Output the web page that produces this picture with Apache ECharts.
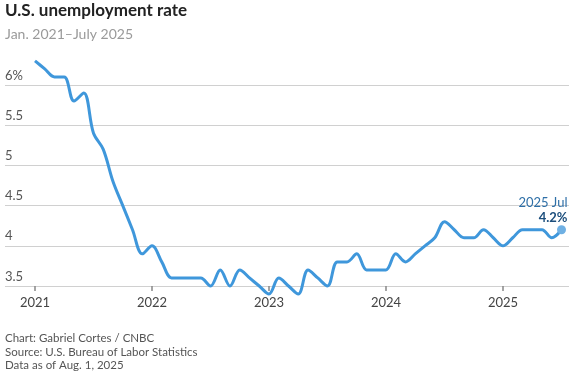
<!DOCTYPE html>
<html>
<head>
<meta charset="utf-8">
<script src="https://cdn.jsdelivr.net/npm/echarts@6/dist/echarts.min.js"></script>
<style>
html,body{margin:0;padding:0;background:#fff;}
#chart{width:571px;height:376px;}
</style>
</head>
<body>
<div id="chart"></div>
<script>
// Monthly U.S. unemployment rate (%), Jan 2021 - Jul 2025
const years = ['2021', '2022', '2023', '2024', '2025'];
const monthNames = ['Jan','Feb','Mar','Apr','May','Jun','Jul','Aug','Sep','Oct','Nov','Dec'];
const rate2021 = [6.3, 6.2, 6.1, 6.1, 5.8, 5.9, 5.4, 5.2, 4.8, 4.5, 4.2, 3.9];
const rate2022 = [4.0, 3.8, 3.6, 3.6, 3.6, 3.6, 3.5, 3.7, 3.5, 3.7, 3.6, 3.5];
const rate2023 = [3.4, 3.6, 3.5, 3.4, 3.7, 3.6, 3.5, 3.8, 3.8, 3.9, 3.7, 3.7];
const rate2024 = [3.7, 3.9, 3.8, 3.9, 4.0, 4.1, 4.3, 4.2, 4.1, 4.1, 4.2, 4.1];
const rate2025 = [4.0, 4.1, 4.2, 4.2, 4.2, 4.1, 4.2];
const yTicks = [3.5, 4, 4.5, 5, 5.5, 6];

const values = [].concat(rate2021, rate2022, rate2023, rate2024, rate2025);
const categories = [];
years.forEach(y => monthNames.forEach(m => { if (categories.length < values.length) categories.push(y + ' ' + m); }));

const lastIdx = values.length - 1;
const seriesData = values.map((v, i) => i === lastIdx ? {
  value: v,
  symbol: 'circle',
  symbolSize: 9,
  itemStyle: { color: '#6fb0e3' },
  label: {
    show: true,
    position: 'top',
    distance: 0,
    align: 'right',
    offset: [6, 0],
    formatter: p => '{a|' + p.name + '}\n{b|' + p.value + '%}',
    rich: {
      a: { fontFamily: 'Lato', fontSize: 13, color: '#2e6fa7', lineHeight: 15, align: 'right' },
      b: { fontFamily: 'Lato', fontSize: 13, fontWeight: 'bold', color: '#1c4e7c', lineHeight: 15, align: 'right' }
    }
  }
} : v);

const FONT = 'Lato';
const chart = echarts.init(document.getElementById('chart'), null, { renderer: 'canvas' });
chart.setOption({
  animation: false,
  backgroundColor: '#fff',
  title: [
    {
      text: 'U.S. unemployment rate',
      subtext: 'Jan. 2021\u2013July 2025',
      left: 5, top: 2, itemGap: 8, padding: 0,
      textStyle: { fontFamily: FONT, fontSize: 17, fontWeight: 'bold', color: '#222' },
      subtextStyle: { fontFamily: FONT, fontSize: 14, color: '#9a9a9a' }
    },
    {
      text: 'Chart: Gabriel Cortes / CNBC\nSource: U.S. Bureau of Labor Statistics\nData as of Aug. 1, 2025',
      left: 5, top: 332, padding: 0,
      textStyle: { fontFamily: FONT, fontSize: 11.5, fontWeight: 'normal', color: '#555', lineHeight: 13.5 }
    }
  ],
  grid: [
    { left: 5, right: 2, top: 85, bottom: 90 },
    { left: 35, right: 9.5, top: 85, bottom: 90 }
  ],
  xAxis: [
    { gridIndex: 0, type: 'value', show: false, min: 0, max: 1 },
    {
      gridIndex: 1, type: 'category', data: categories, boundaryGap: false,
      axisLine: { show: false },
      axisTick: { show: true, length: 5, alignWithLabel: true, interval: (i) => i % 12 === 0, lineStyle: { color: '#888', width: 1.5 } },
      axisLabel: { interval: (i) => i % 12 === 0, formatter: (v) => v.split(' ')[0], margin: 10, fontFamily: FONT, fontSize: 13, color: '#444' },
      splitLine: { show: false }
    }
  ],
  yAxis: [
    {
      gridIndex: 0, type: 'value', min: 3.5, max: 6, interval: 0.5,
      axisLine: { show: false }, axisTick: { show: false },
      splitLine: { show: true, lineStyle: { color: '#d0d0d0', width: 1 } },
      axisLabel: {
        inside: true, margin: 0, verticalAlign: 'bottom', padding: [0, 0, 3, 0],
        fontFamily: FONT, fontSize: 13, color: '#555',
        formatter: (v) => (v === yTicks[yTicks.length - 1] ? v + '%' : String(v))
      }
    },
    { gridIndex: 1, type: 'value', min: 3.5, max: 6, interval: 0.5, show: false, splitLine: { show: false } }
  ],
  series: [
    {
      type: 'line', xAxisIndex: 1, yAxisIndex: 1,
      data: seriesData,
      clip: false,
      symbol: 'none',
      smooth: 0.35,
      lineStyle: { color: '#3f97db', width: 3 },
      itemStyle: { color: '#3f97db' },
      z: 3
    }
  ]
});
</script>
</body>
</html>
